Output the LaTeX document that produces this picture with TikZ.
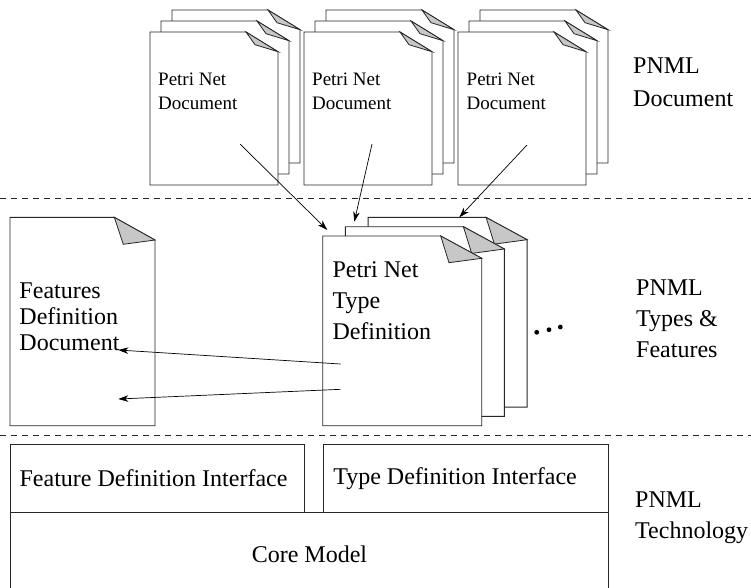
\documentclass[tikz,border=0pt]{standalone}
\usepackage{fontspec}
\setmainfont{Liberation Serif}
\usetikzlibrary{arrows.meta}
\newcommand{\pnmldoc}[8]{%
  \draw[docline] (#1,#2) -- (#1+#3-#5,#2) -- (#1+#3,#2+#6) -- (#1+#3,#2+#4) -- (#1,#2+#4) -- cycle;
  \draw[flap] (#1+#3-#5,#2) -- (#1+#3-#5+#7,#2+#8) -- (#1+#3,#2+#6) -- cycle;
}
\tikzset{
  docline/.style={draw=black!85, line width=0.9pt, fill=white, line join=miter},
  flap/.style={draw=black!85, line width=0.8pt, fill=black!22, line join=miter},
  sepline/.style={draw=black!85, line width=0.8pt, dash pattern=on 6pt off 5pt},
  conn/.style={draw=black, line width=0.7pt, -{Stealth[length=10pt,width=6.5pt,inset=3pt]}},
  smalltxt/.style={font=\fontsize{19}{24.3}\selectfont, align=left, anchor=base west, inner sep=0pt},
  bigtxt/.style={font=\fontsize{24}{31}\selectfont, align=left, anchor=base west, inner sep=0pt},
  layerbox/.style={draw=black!85, line width=0.9pt, anchor=north west, font=\fontsize{24}{31}\selectfont, inner ysep=0pt},
}
\begin{document}
\begin{tikzpicture}[x=1pt,y=-1pt]
\useasboundingbox (0,0) rectangle (751,587);

% separators
\draw[sepline] (0,198) -- (751,198);
\draw[sepline] (0,435) -- (751,435);

% top document groups
\foreach \gx in {150,304,458}{
  \pnmldoc{\gx+22}{10}{128}{153}{32}{19.7}{9}{12.7}
  \pnmldoc{\gx+11}{21}{128}{153}{32}{19.7}{9}{12.7}
  \pnmldoc{\gx}{32}{128}{153}{32}{19.7}{9}{12.7}
}
% (anchor = baseline of the last line)
\node[smalltxt] (pn1) at (158,109.3) {Petri Net\\Document};
\node[smalltxt] (pn2) at (312,109.3) {Petri Net\\Document};
\node[smalltxt] (pn3) at (466.5,109.3) {Petri Net\\Document};

% middle type definition stack
\pnmldoc{368.1}{217.4}{159}{189.7}{41}{22.3}{8.3}{26.7}
\pnmldoc{345.4}{226.7}{159}{189.7}{41}{22.3}{8.3}{26.7}
\pnmldoc{322.7}{236}{159}{189.7}{41}{22.3}{8.3}{26.7}
\node[bigtxt] (ptd) at (332.3,339.3) {Petri Net\\Type\\Definition};

% features definition document
\pnmldoc{10}{217.3}{145}{208.4}{40.7}{22.7}{9}{27}
\node[bigtxt, font=\fontsize{24}{26}\selectfont] (fdd) at (19.3,350.3) {Features\\Definition\\Document};

% dots
\fill (536.7,332.3) circle (2.4);
\fill (549,329.7) circle (2.4);
\fill (560.3,327) circle (2.4);

% arrows
\coordinate (a1s) at (240,144);   \coordinate (a1e) at (327.3,230);
\coordinate (a2s) at (372,144);   \coordinate (a2e) at (354.3,221.7);
\coordinate (a3s) at (527,145);   \coordinate (a3e) at (459.3,217.3);
\coordinate (b1s) at (340.7,364); \coordinate (b1e) at (118.3,350);
\coordinate (b2s) at (340.7,389.3); \coordinate (b2e) at (118.3,399);
\draw[conn] (a1s) -- (a1e);
\draw[conn] (a2s) -- (a2e);
\draw[conn] (a3s) -- (a3e);
\draw[conn] (b1s) -- (b1e);
\draw[conn] (b2s) -- (b2e);

% bottom layer
\node[layerbox, minimum width=294.3pt, minimum height=68pt, text width=276pt, inner xsep=9pt, align=flush left] (fdi) at (10,444) {Feature Definition Interface};
\node[layerbox, minimum width=285.3pt, minimum height=68pt, text width=265pt, inner xsep=10pt, align=flush left] (tdi) at (322.7,444) {Type Definition Interface};
\node[layerbox, minimum width=598pt, minimum height=84pt] (core) at (10,512) {Core Model};

% right labels
\node[bigtxt, font=\fontsize{24}{32.7}\selectfont] (l1) at (633,106) {PNML\\Document};
\node[bigtxt] (l2) at (636,357) {PNML\\Types \&\\Features};
\node[bigtxt] (l3) at (635,538.3) {PNML\\Technology};
\end{tikzpicture}
\end{document}
